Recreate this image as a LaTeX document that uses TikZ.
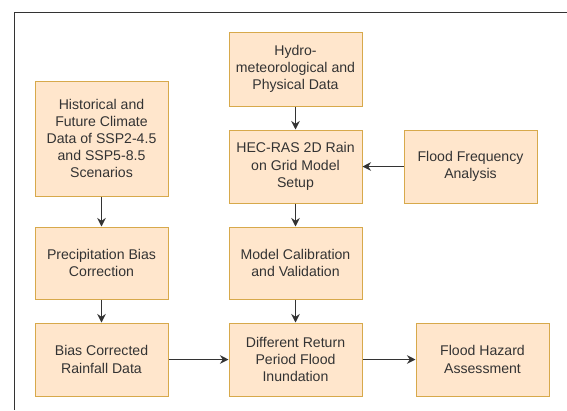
\documentclass[tikz,border=0pt]{standalone}
\usepackage{fontspec}
\setmainfont{Liberation Sans}
\usetikzlibrary{arrows.meta}
\definecolor{boxfill}{HTML}{FFE6CC}
\definecolor{boxline}{HTML}{D7A94B}
\definecolor{txt}{HTML}{333333}
\definecolor{edge}{HTML}{333333}
\begin{document}
\begin{tikzpicture}[x=1pt,y=-1pt,
  box/.style={draw=boxline, fill=boxfill, line width=1pt, rectangle,
    minimum width=133pt, minimum height=73pt, align=center, text=txt,
    font=\fontsize{14.1}{17.2}\selectfont, inner sep=2pt},
  conn/.style={draw=edge, line width=1.1pt, -{Stealth[length=8.5pt,width=8.5pt]}}]
\useasboundingbox (0,0) rectangle (567,410);
\fill[white] (0,0) rectangle (567,410);
\draw[edge, line width=1pt] (567,12) -- (14,12) -- (14,410);

\node[box, minimum height=115pt] (hist) at (101.5,138.5) {Historical and\\Future Climate\\Data of SSP2-4.5\\and SSP5-8.5\\Scenarios};
\node[box, minimum height=74pt] (hydro) at (295.5,69) {Hydro-\\meteorological and\\Physical Data};
\node[box] (hec) at (295.5,166.5) {HEC-RAS 2D Rain\\on Grid Model\\Setup};
\node[box] (ffa) at (470.5,166.5) {Flood Frequency\\Analysis};
\node[box, minimum height=72pt] (prec) at (101.5,263) {Precipitation Bias\\Correction};
\node[box, minimum height=72pt] (calib) at (295.5,263) {Model Calibration\\and Validation};
\node[box] (bias) at (101.5,359.5) {Bias Corrected\\Rainfall Data};
\node[box] (diff) at (295.5,359.5) {Different Return\\Period Flood\\Inundation};
\node[box] (haz) at (482.5,359.5) {Flood Hazard\\Assessment};

\draw[conn] (hist) -- (prec);
\draw[conn] (prec) -- (bias);
\draw[conn] (hydro) -- (hec);
\draw[conn] (hec) -- (calib);
\draw[conn] (calib) -- (diff);
\draw[conn] (ffa) -- (hec);
\draw[conn] (bias) -- (diff);
\draw[conn] (diff) -- (haz);
\end{tikzpicture}
\end{document}
